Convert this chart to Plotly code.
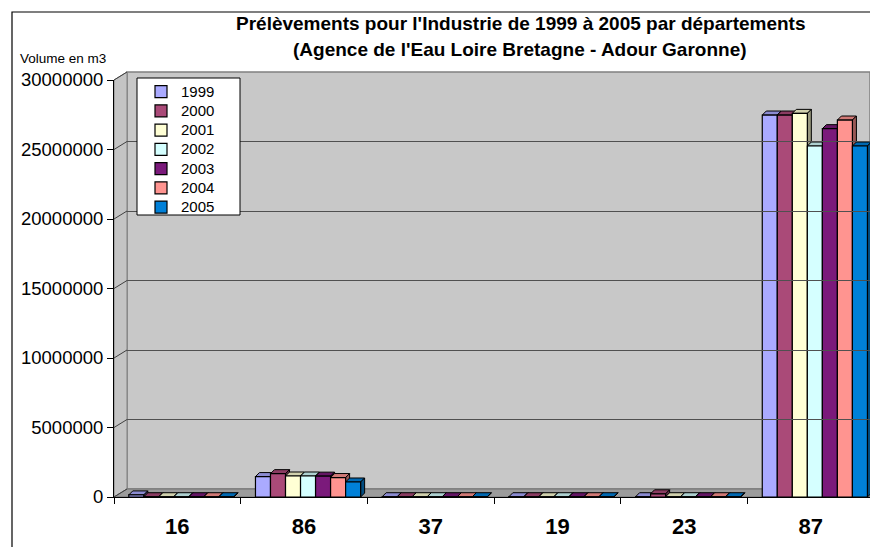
import plotly.graph_objects as go

# ---------------- data ----------------
departements = ["16", "86", "37", "19", "23", "87"]
annees = ["1999", "2000", "2001", "2002", "2003", "2004", "2005"]

v1999 = [150000, 1470000, 20000, 20000, 20000, 27480000]
v2000 = [20000, 1680000, 20000, 20000, 230000, 27480000]
v2001 = [20000, 1510000, 20000, 20000, 20000, 27600000]
v2002 = [20000, 1510000, 20000, 20000, 20000, 25250000]
v2003 = [20000, 1500000, 20000, 20000, 20000, 26500000]
v2004 = [20000, 1400000, 20000, 20000, 20000, 27120000]
v2005 = [20000, 1080000, 20000, 20000, 20000, 25250000]
series = [v1999, v2000, v2001, v2002, v2003, v2004, v2005]

couleurs = ["#AAAAFF", "#AA4A78", "#FFFFD5", "#D5FFFF", "#7B1A7B", "#FF9490", "#0080D8"]

y_ticks = [0, 5000000, 10000000, 15000000, 20000000, 25000000, 30000000]
y_max = 30000000

titre1 = "Prélèvements pour l'Industrie de 1999 à 2005 par départements"
titre2 = "(Agence de l'Eau Loire Bretagne - Adour Garonne)"
titre_y = "Volume en m3"

# ---------------- layout geometry (pixels) ----------------
W, H = 870, 547
FL, FR, FB, FT = 114, 870, 497, 80      # front plane of the plot
DX, DY = 13, 8                           # depth offset of the back wall
CAT_W = 126.7                            # width of a category in px
BARGAP = 0.17
BDX, BDY = 4, 4                          # depth of the bars (px)
BAR_SHIFT = 4                            # bars sit slightly right of centre (px)


def px(X):
    return X / W


def py(Y):
    return 1 - Y / H


def shade(hexcol, f):
    h = hexcol.lstrip("#")
    r, g, b = (int(h[i:i + 2], 16) for i in (0, 2, 4))
    return "#%02X%02X%02X" % (int(r * f), int(g * f), int(b * f))


n_ser = len(series)
w_data = (1 - BARGAP) / n_ser            # bar width in category units
shift = BAR_SHIFT / CAT_W

fig = go.Figure()
for j, (name, vals, col) in enumerate(zip(annees, series, couleurs)):
    fig.add_trace(go.Bar(
        x=departements, y=vals, name=f"<span style='font-size:15px'>{name}</span>",
        width=w_data, offset=-(1 - BARGAP) / 2 + j * w_data + shift,
        marker=dict(color=col, line=dict(color="black", width=1.2)),
    ))

# invisible trace for the back-wall subplot (gridlines)
fig.add_trace(go.Scatter(x=[0], y=[0], xaxis="x2", yaxis="y2",
                         mode="markers", marker=dict(opacity=0),
                         showlegend=False, hoverinfo="skip"))

x_right = -0.5 + (FR - FL) / CAT_W

shapes = []
# back wall
shapes.append(dict(type="rect", xref="paper", yref="paper",
                   x0=px(FL + DX), x1=1.0, y0=py(FB - DY), y1=py(FT - DY),
                   fillcolor="#C8C8C8", line=dict(color="#808080", width=1.5),
                   layer="below"))
# side wall
shapes.append(dict(type="path", xref="paper", yref="paper",
                   path=f"M {px(FL)},{py(FB)} L {px(FL)},{py(FT)} L {px(FL+DX)},{py(FT-DY)} "
                        f"L {px(FL+DX)},{py(FB-DY)} Z",
                   fillcolor="#C4C4C4", line=dict(color="#808080", width=1),
                   layer="below"))
# floor
shapes.append(dict(type="path", xref="paper", yref="paper",
                   path=f"M {px(FL)},{py(FB)} L {px(FL+DX)},{py(FB-DY)} L 1.0,{py(FB-DY)} "
                        f"L 1.0,{py(FB)} Z",
                   fillcolor="#9C9C9C", line=dict(color="#707070", width=1),
                   layer="below"))
# diagonal gridline continuations on the side wall
for t in y_ticks:
    Y = FB - (FB - FT) * t / y_max
    shapes.append(dict(type="line", xref="paper", yref="paper",
                       x0=px(FL), y0=py(Y), x1=px(FL + DX), y1=py(Y - DY),
                       line=dict(color="#404040", width=1), layer="between"))

# 3D faces of the bars (top and right side), anchored on the data
bar_w = CAT_W * w_data
dy_data = BDY * y_max / (FB - FT)
for j, (vals, col) in enumerate(zip(series, couleurs)):
    xl = -CAT_W * (1 - BARGAP) / 2 + j * bar_w + BAR_SHIFT
    xr = xl + bar_w
    for i, v in enumerate(vals):
        # top face
        shapes.append(dict(type="path", xref="x", yref="y",
                           xsizemode="pixel", xanchor=i,
                           ysizemode="pixel", yanchor=v,
                           path=f"M {xl},0 L {xl+BDX},{BDY} L {xr+BDX},{BDY} L {xr},0 Z",
                           fillcolor=shade(col, 0.82),
                           line=dict(color="black", width=1), layer="between"))
        # right side face
        shapes.append(dict(type="path", xref="x", yref="y",
                           xsizemode="pixel", xanchor=i,
                           path=f"M {xr},0 L {xr+BDX},{dy_data} L {xr+BDX},{v+dy_data} L {xr},{v} Z",
                           fillcolor=shade(col, 0.6),
                           line=dict(color="black", width=1), layer="between"))

# legend box
shapes.append(dict(type="rect", xref="paper", yref="paper",
                   x0=px(137), x1=px(240), y0=py(215), y1=py(78),
                   fillcolor="white", line=dict(color="black", width=1), layer="above"))

# chart border
shapes.append(dict(type="rect", xref="paper", yref="paper",
                   x0=px(12), x1=1.02, y0=-0.02, y1=py(12),
                   fillcolor="rgba(0,0,0,0)", line=dict(color="black", width=1.2)))

annotations = [
    dict(text=f"<b>{titre1}</b>", xref="paper", yref="paper", x=px(520), y=py(23),
         xanchor="center", yanchor="middle", showarrow=False,
         font=dict(family="Liberation Sans, Arial", size=19, color="black")),
    dict(text=f"<b>{titre2}</b>", xref="paper", yref="paper", x=px(520), y=py(50),
         xanchor="center", yanchor="middle", showarrow=False,
         font=dict(family="Liberation Sans, Arial", size=19, color="black")),
    dict(text=titre_y, xref="paper", yref="paper", x=px(18), y=py(58),
         xanchor="left", yanchor="middle", showarrow=False,
         font=dict(family="Liberation Sans, Arial", size=13.5, color="black")),
]

fig.update_layout(
    width=W, height=H,
    margin=dict(l=0, r=0, t=0, b=0),
    paper_bgcolor="white",
    plot_bgcolor="rgba(0,0,0,0)",
    barmode="group", bargap=BARGAP, bargroupgap=0,
    font=dict(family="Liberation Sans, Arial", color="black"),
    showlegend=True,
    legend=dict(x=px(141), y=py(77), xanchor="left", yanchor="top",
                bgcolor="rgba(0,0,0,0)", borderwidth=0,
                font=dict(size=12.5, color="black"), traceorder="normal"),
    xaxis=dict(domain=[px(FL), 1.0], type="category", range=[-0.5, x_right],
               showgrid=False, showline=True, linecolor="black", linewidth=1,
               ticks="outside", ticklen=6, tickcolor="black", tickson="boundaries",
               tickfont=dict(size=22, weight="bold"), ticklabelstandoff=10,
               automargin=False, anchor="y", fixedrange=True),
    yaxis=dict(domain=[py(FB), py(FT)], range=[0, y_max], tickvals=y_ticks,
               tickformat="d", showgrid=False, zeroline=False,
               showline=True, linecolor="black", linewidth=1,
               ticks="outside", ticklen=6, tickcolor="black",
               tickfont=dict(size=18.5), automargin=False, anchor="x"),
    xaxis2=dict(domain=[px(FL + DX), 1.0], range=[0, 1], showgrid=False,
                showticklabels=False, ticks="", showline=False, zeroline=False,
                anchor="y2"),
    yaxis2=dict(domain=[py(FB - DY), py(FT - DY)], range=[0, y_max], tickvals=y_ticks,
                showgrid=True, gridcolor="#505050", gridwidth=1.2,
                showticklabels=False, ticks="", showline=False, zeroline=False,
                anchor="x2"),
    shapes=shapes,
    annotations=annotations,
)

fig.write_html("out.html", config={"displayModeBar": False},
               post_script="document.body.style.margin='0px';")
